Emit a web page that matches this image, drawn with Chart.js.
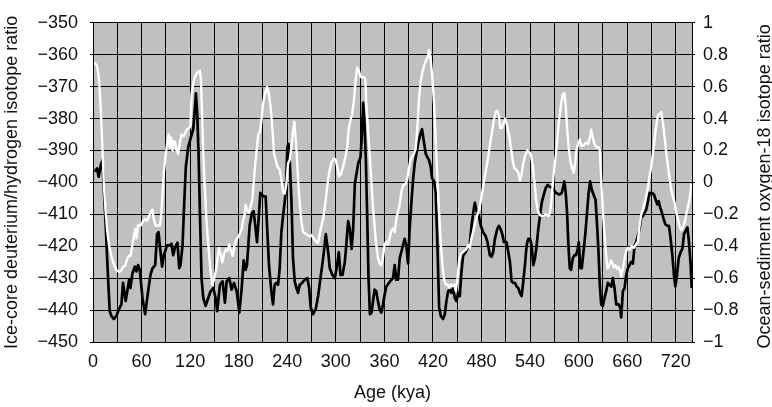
<!DOCTYPE html>
<html>
<head>
<meta charset="utf-8">
<script src="https://cdn.jsdelivr.net/npm/chart.js@4.4.1/dist/chart.umd.min.js"></script>
<style>
  html, body { margin: 0; padding: 0; background: #ffffff; }
  canvas { display: block; }
</style>
</head>
<body>
<canvas id="chart" width="772" height="407"></canvas>
<script>
// Ice-core deuterium/hydrogen record (left axis), age in kya
const iceAges = [
  2.1, 5.0, 7.0, 9.5, 11.6, 13.2, 15.7, 18.6, 20.6, 22.7, 25.6, 28.9, 32.2, 35.1, 37.1, 40.4,
  44.6, 46.2, 48.7, 51.6, 53.7, 55.7, 57.8, 61.1, 64.4, 68.1, 71.0, 73.5, 76.8, 79.2, 80.9, 83.4,
  85.4, 87.5, 91.6, 94.9, 97.0, 99.1, 101.5, 104.4, 106.5, 108.1, 110.6, 112.7, 114.7, 117.6, 120.9, 123.8,
  125.9, 127.1, 128.8, 130.4, 132.1, 134.1, 136.2, 139.1, 142.4, 145.3, 148.6, 151.5, 153.5, 156.8, 160.1, 163.0,
  165.1, 168.4, 171.3, 174.2, 177.5, 180.8, 183.7, 186.1, 188.5, 190.2, 193.5, 196.4, 198.4, 200.9, 202.6, 204.6,
  206.7, 208.3, 210.8, 213.3, 215.4, 217.4, 220.3, 222.4, 224.4, 226.5, 228.6, 230.6, 232.7, 234.8, 238.1, 240.1,
  241.4, 243.0, 245.1, 247.1, 249.2, 251.3, 253.3, 255.4, 258.3, 261.6, 264.9, 267.0, 269.0, 271.9, 275.2, 278.1,
  281.0, 284.3, 287.6, 290.5, 292.5, 295.8, 298.7, 301.6, 303.7, 305.7, 308.2, 311.1, 313.2, 315.2, 317.3, 319.4,
  321.4, 323.5, 325.6, 327.6, 330.5, 332.2, 333.8, 335.5, 337.1, 338.8, 340.4, 342.1, 344.1, 346.2, 347.9, 349.9,
  352.0, 354.1, 356.2, 358.3, 360.3, 362.4, 365.6, 368.7, 370.6, 372.7, 374.7, 376.8, 378.9, 380.9, 383.0, 385.0,
  387.1, 389.2, 391.2, 393.3, 395.4, 397.4, 399.5, 401.6, 404.4, 406.5, 408.6, 411.0, 413.1, 415.2, 417.2, 418.9,
  421.4, 423.4, 425.5, 427.6, 429.6, 432.5, 434.6, 436.6, 438.7, 440.8, 442.8, 444.9, 447.0, 449.0, 451.1, 453.1,
  455.2, 457.3, 459.3, 463.5, 465.5, 467.6, 469.7, 471.7, 473.8, 476.7, 479.1, 482.0, 484.9, 487.4, 490.3, 492.4,
  494.4, 496.5, 499.4, 501.4, 503.5, 505.6, 507.6, 510.9, 513.0, 515.1, 517.1, 519.2, 521.2, 523.3, 525.4, 527.4,
  529.5, 531.6, 533.6, 535.7, 537.7, 539.8, 541.9, 543.9, 546.0, 548.1, 550.1, 552.2, 554.3, 556.3, 559.2, 561.7,
  563.8, 567.9, 572.1, 576.2, 579.1, 582.4, 584.0, 585.7, 587.3, 589.0, 590.6, 592.7, 594.8, 596.8, 598.9, 600.1,
  602.2, 603.8, 605.9, 608.0, 610.0, 612.1, 614.2, 616.2, 618.3, 620.8, 622.8, 624.5, 626.1, 627.8, 629.8, 631.9,
  634.0, 636.0, 638.1, 640.2, 642.2, 644.3, 646.4, 649.2, 651.3, 652.5, 654.6, 656.7, 658.7, 660.8, 662.9, 664.9,
  667.0, 669.1, 671.1, 673.2, 675.2, 677.3, 679.4, 681.4, 683.5, 685.6, 687.6, 690.5, 693.0, 695.1, 697.1, 698.8,
  700.8, 702.9, 705.0, 707.0, 709.5, 711.6, 713.6, 715.7, 717.7, 719.4, 721.5, 723.5, 726.0, 728.1, 730.1, 732.2,
  734.3, 736.3, 738.4, 739.6
];
const iceDeuterium = [
  -396.7, -395.6, -398.2, -394.6, -393.1, -401.3, -413.6, -430.0, -440.3, -441.8, -442.8, -441.8, -439.7, -438.2, -431.5, -437.2,
  -430.5, -433.1, -428.5, -426.4, -427.9, -425.9, -427.4, -436.2, -441.3, -434.1, -429.0, -426.9, -425.9, -416.2, -415.6, -421.8,
  -426.4, -422.8, -419.7, -419.7, -419.2, -422.8, -420.3, -418.9, -426.9, -425.9, -419.7, -406.4, -395.1, -389.0, -385.9, -383.3,
  -376.7, -372.1, -378.7, -391.0, -409.5, -430.0, -436.2, -438.7, -436.2, -434.1, -433.1, -436.2, -440.3, -432.1, -431.0, -437.7,
  -431.0, -430.0, -433.6, -431.5, -434.1, -440.8, -433.1, -424.4, -427.4, -425.9, -413.6, -409.5, -409.0, -414.6, -418.7, -411.5,
  -403.3, -403.8, -404.4, -404.4, -415.6, -425.9, -434.1, -438.2, -432.1, -431.5, -432.1, -426.9, -415.6, -410.5, -403.3, -389.0,
  -387.9, -393.1, -405.4, -423.8, -431.0, -433.1, -434.6, -432.1, -431.5, -430.5, -430.0, -433.1, -439.2, -441.3, -439.7, -435.6,
  -430.0, -423.8, -416.2, -421.8, -426.9, -429.0, -430.0, -425.9, -421.8, -429.0, -429.0, -424.9, -418.7, -412.1, -414.6, -420.8,
  -414.6, -400.3, -397.2, -394.1, -392.1, -384.9, -375.1, -381.8, -393.1, -411.5, -430.0, -441.3, -440.8, -436.7, -433.6, -434.1,
  -437.2, -439.7, -440.8, -438.2, -435.1, -432.6, -431.5, -430.5, -430.0, -425.9, -430.5, -430.5, -423.8, -421.8, -419.7, -417.7,
  -419.7, -425.4, -414.6, -406.4, -399.2, -394.1, -391.0, -387.9, -384.9, -383.3, -386.9, -391.0, -392.1, -393.1, -395.1, -398.7,
  -399.7, -403.3, -419.7, -439.2, -441.8, -442.8, -441.3, -437.2, -434.1, -433.6, -434.6, -433.1, -436.2, -437.2, -434.6, -435.6,
  -427.9, -422.8, -422.3, -420.3, -419.2, -413.6, -409.5, -406.4, -409.0, -410.5, -413.6, -415.6, -416.7, -418.7, -422.8, -423.3,
  -421.8, -417.7, -414.6, -413.6, -414.6, -416.2, -418.7, -418.7, -421.8, -424.9, -431.0, -431.5, -431.5, -432.6, -433.1, -434.6,
  -435.6, -431.0, -425.9, -419.7, -417.7, -417.7, -419.7, -425.9, -423.8, -419.7, -414.6, -410.5, -406.4, -404.4, -401.8, -400.8,
  -401.3, -401.8, -403.3, -403.8, -403.3, -399.7, -403.3, -409.5, -419.7, -426.9, -427.4, -423.8, -422.8, -422.8, -420.8, -418.7,
  -426.9, -426.9, -421.8, -416.7, -410.5, -403.8, -399.7, -402.3, -403.8, -405.4, -413.6, -421.8, -432.1, -438.2, -438.7, -436.2,
  -434.1, -431.5, -432.1, -432.6, -430.0, -433.1, -438.2, -438.2, -439.2, -442.3, -434.1, -433.1, -429.0, -426.9, -425.9, -424.9,
  -425.4, -419.7, -418.7, -416.7, -414.6, -411.0, -410.5, -409.5, -408.5, -405.9, -403.3, -403.3, -403.8, -405.4, -406.9, -405.9,
  -407.9, -409.5, -411.5, -413.1, -413.6, -413.6, -417.7, -422.8, -429.0, -432.6, -429.0, -423.8, -421.8, -420.8, -416.2, -415.1,
  -414.1, -418.7, -425.9, -433.1
];

// Ocean-sediment oxygen-18 record (right axis), age in kya
const oceanAges = [
  2.1, 5.0, 7.4, 9.5, 11.6, 13.6, 15.7, 17.7, 19.8, 22.7, 25.6, 28.9, 32.2, 35.1, 37.1, 40.0,
  42.1, 44.6, 46.6, 48.7, 50.8, 52.4, 53.7, 55.7, 58.6, 61.1, 64.0, 66.9, 69.3, 71.4, 73.5, 75.1,
  77.2, 80.5, 82.5, 83.8, 85.4, 87.5, 90.0, 92.0, 93.7, 94.9, 96.6, 98.2, 99.9, 101.5, 103.2, 105.2,
  107.3, 109.4, 112.3, 115.6, 118.9, 120.5, 121.7, 123.8, 125.9, 128.8, 132.1, 133.3, 134.5, 136.2, 138.3, 140.3,
  142.4, 144.5, 147.3, 149.4, 151.5, 153.5, 155.6, 157.7, 159.7, 161.8, 163.8, 165.9, 168.4, 170.5, 172.5, 174.2,
  176.2, 178.3, 180.8, 183.7, 185.5, 187.3, 188.5, 190.2, 192.7, 194.7, 196.8, 198.4, 200.5, 202.6, 204.2, 206.3,
  207.9, 210.0, 212.1, 215.0, 217.4, 219.5, 221.6, 223.6, 225.7, 227.7, 230.6, 232.7, 234.8, 236.8, 238.9, 241.0,
  243.0, 245.1, 247.1, 248.8, 250.0, 251.7, 253.3, 255.4, 257.5, 259.5, 262.4, 264.9, 267.8, 269.8, 272.7, 275.2,
  278.1, 280.2, 282.2, 284.3, 286.4, 288.4, 290.5, 292.5, 295.0, 297.9, 300.0, 302.0, 304.1, 306.2, 309.1, 311.9,
  314.0, 316.1, 318.1, 320.2, 322.3, 324.3, 326.4, 328.5, 330.5, 333.8, 336.3, 337.6, 339.6, 341.7, 343.7, 345.8,
  347.8, 349.9, 352.0, 354.0, 356.1, 358.2, 360.2, 362.3, 364.4, 366.4, 368.5, 370.6, 372.7, 374.7, 376.8, 378.9,
  380.9, 383.0, 385.9, 387.9, 390.0, 392.1, 394.1, 396.6, 398.7, 400.7, 402.8, 404.8, 406.9, 409.0, 411.1, 413.1,
  415.2, 417.2, 419.3, 421.4, 423.4, 425.5, 427.6, 429.6, 431.7, 433.8, 435.8, 437.9, 440.0, 442.0, 444.1, 446.1,
  448.2, 450.3, 452.3, 454.4, 456.4, 458.5, 461.0, 463.5, 465.5, 467.6, 470.1, 472.5, 475.0, 477.5, 480.0, 482.5,
  484.9, 487.4, 489.9, 492.4, 494.9, 497.3, 499.4, 501.4, 503.1, 505.1, 507.2, 509.3, 511.3, 513.8, 516.3, 518.4,
  520.4, 522.9, 525.4, 527.4, 529.5, 531.6, 534.0, 536.5, 539.0, 541.1, 543.1, 545.2, 547.2, 549.3, 551.4, 553.8,
  556.3, 559.5, 562.6, 564.6, 566.3, 567.9, 570.0, 572.1, 574.1, 576.2, 578.3, 580.3, 582.4, 584.0, 585.7, 587.7,
  589.8, 591.9, 593.9, 595.6, 597.2, 599.3, 601.4, 603.4, 605.5, 607.6, 609.6, 611.7, 613.8, 615.4, 617.5, 619.5,
  622.0, 624.5, 626.1, 627.8, 629.8, 631.9, 634.0, 635.6, 637.7, 639.7, 641.4, 643.0, 645.1, 647.2, 649.2, 650.9,
  652.5, 654.6, 656.7, 658.7, 660.8, 663.3, 665.7, 668.2, 670.7, 673.2, 675.2, 677.3, 679.4, 681.4, 683.5, 685.6,
  687.6, 689.7, 691.7, 693.8, 695.9, 697.9, 700.0, 702.1, 704.1, 706.2, 708.3, 710.3, 712.4, 714.5, 716.5, 718.6,
  720.6, 722.7, 724.8, 726.8, 728.9, 731.0, 733.0, 735.1, 737.2, 739.2
];
const oceanO18 = [
  0.75, 0.73, 0.65, 0.47, 0.22, -0.03, -0.19, -0.31, -0.39, -0.46, -0.51, -0.55, -0.56, -0.55, -0.53, -0.52,
  -0.48, -0.46, -0.46, -0.39, -0.33, -0.29, -0.35, -0.27, -0.27, -0.25, -0.23, -0.24, -0.21, -0.19, -0.17, -0.23,
  -0.27, -0.27, -0.27, -0.23, -0.11, 0.06, 0.18, 0.26, 0.30, 0.22, 0.28, 0.20, 0.26, 0.25, 0.20, 0.18,
  0.25, 0.30, 0.29, 0.33, 0.34, 0.36, 0.55, 0.62, 0.66, 0.69, 0.70, 0.65, 0.47, 0.18, -0.05, -0.25,
  -0.39, -0.52, -0.64, -0.61, -0.56, -0.49, -0.41, -0.45, -0.50, -0.45, -0.42, -0.43, -0.39, -0.43, -0.46, -0.41,
  -0.37, -0.35, -0.33, -0.29, -0.24, -0.20, -0.14, -0.17, -0.19, -0.15, -0.11, -0.01, 0.12, 0.22, 0.30, 0.32,
  0.38, 0.49, 0.55, 0.60, 0.55, 0.47, 0.34, 0.18, 0.14, 0.10, 0.08, 0.02, -0.06, -0.07, -0.01, 0.12,
  0.14, 0.22, 0.32, 0.38, 0.30, 0.18, 0.02, -0.13, -0.25, -0.31, -0.32, -0.33, -0.34, -0.33, -0.35, -0.37,
  -0.38, -0.32, -0.27, -0.23, -0.15, -0.07, 0.02, 0.08, 0.13, 0.15, 0.14, 0.09, 0.04, 0.05, 0.10, 0.16,
  0.22, 0.34, 0.39, 0.43, 0.51, 0.63, 0.72, 0.70, 0.66, 0.66, 0.65, 0.50, 0.34, 0.18, 0.02, -0.15,
  -0.27, -0.39, -0.47, -0.51, -0.52, -0.47, -0.39, -0.37, -0.39, -0.35, -0.30, -0.29, -0.31, -0.23, -0.18, -0.14,
  -0.06, -0.02, -0.01, 0.01, 0.08, 0.14, 0.16, 0.18, 0.21, 0.34, 0.53, 0.63, 0.69, 0.73, 0.76, 0.78,
  0.83, 0.77, 0.65, 0.49, 0.26, 0.02, -0.19, -0.37, -0.52, -0.61, -0.64, -0.64, -0.66, -0.64, -0.65, -0.64,
  -0.68, -0.60, -0.49, -0.45, -0.44, -0.43, -0.42, -0.39, -0.41, -0.35, -0.30, -0.25, -0.20, -0.16, -0.09, -0.01,
  0.06, 0.13, 0.22, 0.30, 0.38, 0.44, 0.45, 0.42, 0.34, 0.34, 0.37, 0.40, 0.36, 0.30, 0.22, 0.14,
  0.09, 0.08, 0.06, 0.01, 0.05, 0.12, 0.17, 0.20, 0.19, 0.17, 0.11, 0.01, -0.10, -0.17, -0.20, -0.21,
  -0.21, -0.20, -0.21, -0.19, -0.12, -0.01, 0.10, 0.18, 0.30, 0.41, 0.49, 0.55, 0.56, 0.48, 0.34, 0.22,
  0.13, 0.09, 0.06, 0.12, 0.20, 0.24, 0.27, 0.23, 0.23, 0.24, 0.25, 0.24, 0.28, 0.33, 0.28, 0.24,
  0.22, 0.22, 0.20, 0.02, -0.17, -0.33, -0.46, -0.54, -0.52, -0.49, -0.50, -0.53, -0.52, -0.54, -0.53, -0.55,
  -0.59, -0.54, -0.48, -0.43, -0.41, -0.42, -0.40, -0.41, -0.39, -0.37, -0.27, -0.20, -0.17, -0.13, -0.08, -0.03,
  0.04, 0.10, 0.18, 0.27, 0.36, 0.42, 0.43, 0.44, 0.37, 0.28, 0.18, 0.10, 0.02, -0.05, -0.09, -0.13,
  -0.19, -0.23, -0.28, -0.30, -0.28, -0.25, -0.20, -0.15, -0.10, -0.01
];

// Axis ranges and tick steps
const ageRange = [0, 740];
const ageStep = 30;
const ageLabelEvery = 60;
const deuteriumRange = [-450, -350];
const deuteriumStep = 10;
const o18Range = [-1, 1];
const o18Step = 0.2;

const axisTitleLeft = 'Ice-core deuterium/hydrogen isotope ratio';
const axisTitleRight = 'Ocean-sediment oxygen-18 isotope ratio';
const axisTitleBottom = 'Age (kya)';

const FONT_FAMILY = '"Liberation Sans", Arial, Helvetica, sans-serif';
const TEXT_COLOR = '#111111';
const PLOT_BG = 'rgb(192,192,192)';

function signed(v) {
  const r = Math.round(v * 10) / 10;
  if (r === 0) return '0';
  return (r < 0 ? '\u2212' : '') + String(Math.abs(r));
}

const plotBackground = {
  id: 'plotBackground',
  beforeDraw(chart) {
    const { ctx, chartArea: a } = chart;
    ctx.save();
    ctx.fillStyle = PLOT_BG;
    ctx.fillRect(a.left, a.top, a.right - a.left, a.bottom - a.top);
    ctx.restore();
  }
};

// Right-hand title reads bottom-to-top like the left one
const rightTitle = {
  id: 'rightTitle',
  afterDraw(chart) {
    const { ctx, chartArea: a } = chart;
    ctx.save();
    ctx.translate(765, (a.top + a.bottom) / 2 + 4);
    ctx.rotate(-Math.PI / 2);
    ctx.font = '18px ' + FONT_FAMILY;
    ctx.fillStyle = TEXT_COLOR;
    ctx.textAlign = 'center';
    ctx.textBaseline = 'middle';
    ctx.fillText(axisTitleRight, 0, 0);
    ctx.restore();
  }
};

const toPoints = (xs, ys) => xs.map((x, i) => ({ x, y: ys[i] }));

new Chart(document.getElementById('chart'), {
  type: 'line',
  data: {
    datasets: [
      {
        label: axisTitleRight,
        data: toPoints(oceanAges, oceanO18),
        yAxisID: 'y2',
        borderColor: '#ffffff',
        borderWidth: 2.4,
        pointRadius: 0,
        tension: 0,
        borderJoinStyle: 'round',
        order: 0
      },
      {
        label: axisTitleLeft,
        data: toPoints(iceAges, iceDeuterium),
        yAxisID: 'y',
        borderColor: '#000000',
        borderWidth: 2.7,
        pointRadius: 0,
        tension: 0,
        borderJoinStyle: 'round',
        order: 1
      }
    ]
  },
  options: {
    responsive: false,
    devicePixelRatio: 1,
    animation: false,
    layout: { padding: { top: 15, left: 0, right: 0, bottom: 0 } },
    plugins: {
      legend: { display: false },
      tooltip: { enabled: false }
    },
    font: { family: FONT_FAMILY, size: 18 },
    color: TEXT_COLOR,
    scales: {
      x: {
        type: 'linear',
        min: ageRange[0],
        max: ageRange[1],
        afterFit: s => { s.height = 65; },
        ticks: {
          stepSize: ageStep,
          includeBounds: false,
          autoSkip: false,
          maxRotation: 0,
          padding: 9,
          color: TEXT_COLOR,
          font: { family: FONT_FAMILY, size: 18 },
          callback: v => (v % ageLabelEvery === 0 ? String(v) : '')
        },
        grid: { color: '#000000', lineWidth: 1, drawTicks: false },
        border: { color: '#000000', width: 1 },
        title: {
          display: true,
          text: axisTitleBottom,
          color: TEXT_COLOR,
          font: { family: FONT_FAMILY, size: 18 },
          padding: { top: 0, bottom: 3 }
        }
      },
      y: {
        position: 'left',
        min: deuteriumRange[0],
        max: deuteriumRange[1],
        afterFit: s => { s.width = 93; },
        ticks: {
          stepSize: deuteriumStep,
          padding: 12,
          color: TEXT_COLOR,
          font: { family: FONT_FAMILY, size: 18 },
          callback: v => signed(v)
        },
        grid: { color: '#000000', lineWidth: 1, tickLength: 3 },
        border: { color: '#000000', width: 1 },
        title: {
          display: true,
          text: axisTitleLeft,
          color: TEXT_COLOR,
          font: { family: FONT_FAMILY, size: 18 },
          padding: { top: 1, bottom: 0 }
        }
      },
      y2: {
        position: 'right',
        min: o18Range[0],
        max: o18Range[1],
        afterFit: s => { s.width = 80; },
        ticks: {
          stepSize: o18Step,
          padding: 8,
          color: TEXT_COLOR,
          font: { family: FONT_FAMILY, size: 18 },
          callback: v => signed(v)
        },
        grid: { drawOnChartArea: false, color: '#000000', lineWidth: 1, tickLength: 3 },
        border: { color: '#000000', width: 1 },
        title: { display: false }
      }
    }
  },
  plugins: [plotBackground, rightTitle]
});
</script>
</body>
</html>
